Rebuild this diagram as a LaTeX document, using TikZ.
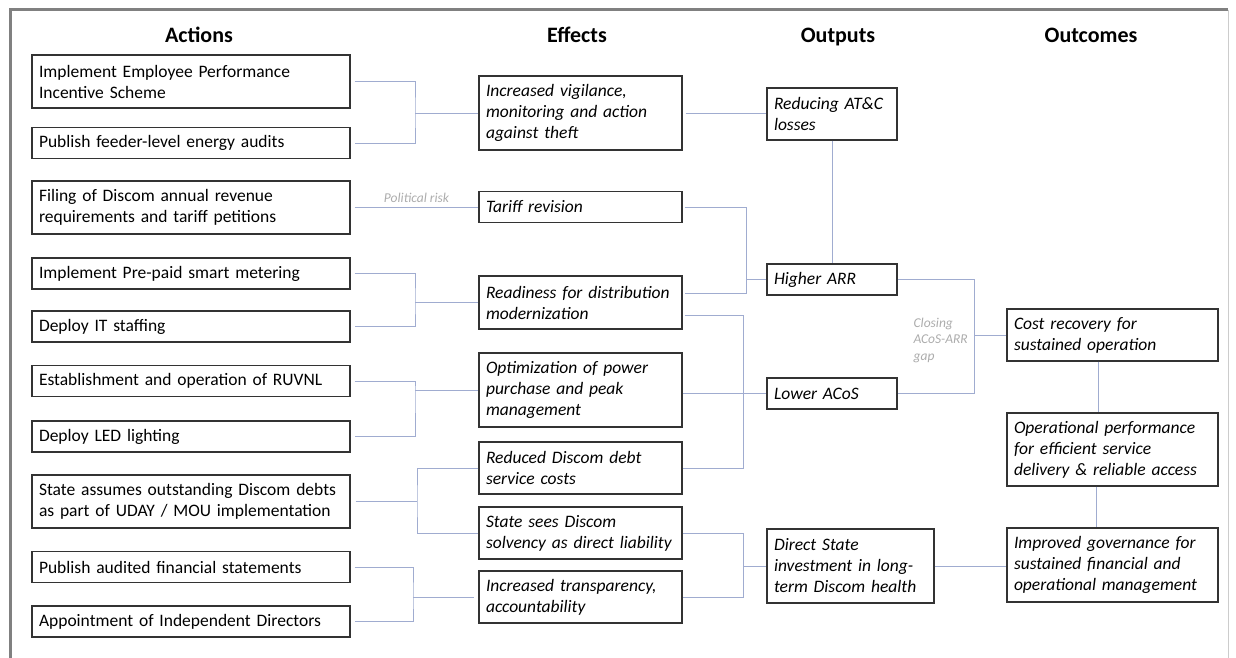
\documentclass[tikz,border=0pt]{standalone}
\usepackage{fontspec}
\setmainfont{Carlito}
\usetikzlibrary{positioning}

\definecolor{linkblue}{RGB}{160,172,208}
\definecolor{framegray}{RGB}{128,128,128}
\definecolor{notegray}{RGB}{172,172,172}

\tikzset{
    box/.style={draw=black!80, line width=1.1pt, align=left, inner xsep=7pt, inner ysep=2pt,
        minimum height=31pt, font=\fontsize{17.5}{21}\selectfont},
    action/.style={box, text width=304pt},
    effect/.style={box, text width=189pt, font=\fontsize{17.5}{21}\selectfont\itshape},
    output/.style={box, text width=116pt, font=\fontsize{17.5}{21}\selectfont\itshape},
    outcome/.style={box, text width=197pt, font=\fontsize{17.5}{21}\selectfont\itshape},
    head/.style={anchor=base, font=\fontsize{22}{26}\selectfont\bfseries},
    note/.style={text=notegray, inner sep=1pt, font=\fontsize{13.5}{16.5}\selectfont\itshape},
    link/.style={draw=linkblue, line width=0.9pt},
}

\begin{document}
\begin{tikzpicture}[x=1pt,y=-1pt]
    \useasboundingbox (0,0) rectangle (1236,658);

    % cadre
    \draw[framegray, line width=3pt] (10,658) -- (10,10) -- (1228,10);
    \draw[black!20] (1228,10) -- (1228,658);

    \foreach \x/\t [count=\i] in {199/Actions, 577/Effects, 838/Outputs, 1091/Outcomes}
        \node[head] (h\i) at (\x,43) {\t};

    % actions
    \node[action, minimum height=53pt] (a1) at (191,81.5) {Implement Employee Performance\\Incentive Scheme};
    \node[action] (a2) at (191,143) {Publish feeder-level energy audits};
    \node[action, minimum height=53pt] (a3) at (191,207.5) {Filing of Discom annual revenue\\requirements and tariff petitions};
    \node[action] (a4) at (191,273.5) {Implement Pre-paid smart metering};
    \node[action] (a5) at (191,326.5) {Deploy IT staffing};
    \node[action] (a6) at (191,381) {Establishment and operation of RUVNL};
    \node[action] (a7) at (191,436.5) {Deploy LED lighting};
    \node[action, minimum height=53pt] (a8) at (191,501.5) {State assumes outstanding Discom debts\\as part of UDAY / MOU implementation};
    \node[action] (a9) at (191,567) {Publish audited financial statements};
    \node[action] (a10) at (191,621.5) {Appointment of Independent Directors};

    % effects
    \node[effect, minimum height=74pt] (e1) at (580.5,113) {Increased vigilance,\\monitoring and action\\against theft};
    \node[effect] (e2) at (580.5,207) {Tariff revision};
    \node[effect, minimum height=53pt] (e3) at (580.5,302.5) {Readiness for distribution\\modernization};
    \node[effect, minimum height=74pt] (e4) at (580.5,390) {Optimization of power\\purchase and peak\\management};
    \node[effect, minimum height=52pt] (e5) at (580.5,468) {Reduced Discom debt\\service costs};
    \node[effect, minimum height=52pt] (e6) at (580.5,533) {State sees Discom\\solvency as direct liability};
    \node[effect, minimum height=52pt] (e7) at (580.5,597) {Increased transparency,\\accountability};

    % outputs
    \node[output, minimum height=52pt] (o1) at (832,114) {Reducing AT\&C\\losses};
    \node[output] (o2) at (832,279.5) {Higher ARR};
    \node[output] (o3) at (832,393.5) {Lower ACoS};
    \node[output, text width=153pt, minimum height=74pt] (o4) at (850.5,566) {Direct State\\investment in long-\\term Discom health};

    % outcomes
    \node[outcome, minimum height=52pt] (c1) at (1112.5,335) {Cost recovery for\\sustained operation};
    \node[outcome, minimum height=73pt] (c2) at (1112.5,449.5) {Operational performance\\for efficient service\\delivery \& reliable access};
    \node[outcome, minimum height=74pt] (c3) at (1112.5,565) {Improved governance for\\sustained financial and\\operational management};

    % actions -> effects
    \coordinate (j1) at (415,113);
    \draw[link] ([xshift=4pt]a1.east) -| (j1) |- ([xshift=4pt]a2.east);
    \draw[link] (j1) -- (e1.west);
    \draw[link] ([xshift=4pt]a3.east) -- (a3.east -| e2.west) node[note, midway, above=3pt] (risk) {Political risk};
    \coordinate (j2) at (415,302.5);
    \draw[link] ([xshift=4pt]a4.east) -| (j2) |- ([xshift=4pt]a5.east);
    \draw[link] (j2) -- (e3.west);
    \coordinate (j3) at (415,390);
    \draw[link] ([xshift=4pt]a6.east) -| (j3) |- ([xshift=4pt]a7.east);
    \draw[link] (j3) -- (e4.west);
    \coordinate (j4) at (417,501.5);
    \draw[link] ([xshift=5pt]a8.east) -- (j4);
    \draw[link] (e5.west) -| (j4) |- (e6.west);
    \coordinate (j5) at (413,597);
    \draw[link] ([xshift=4pt]a9.east) -| (j5) |- ([xshift=4pt]a10.east);
    \draw[link] (j5) -- ([xshift=-4pt]e7.west);

    % effects -> outputs
    \draw[link] ([xshift=3pt]e1.east) -- (e1.east -| o1.west);
    \draw[link] (o1.south) -- (o2.north);
    \coordinate (j6) at (746,279.5);
    \draw[link] ([xshift=2pt]e2.east) -| (j6) |- ([xshift=2pt,yshift=9.5pt]e3.east);
    \draw[link] (j6) -- (o2.west);
    \coordinate (j7) at (743,393.5);
    \draw[link] ([xshift=2pt,yshift=-12.5pt]e3.east) -| (j7) |- (e5.east);
    \draw[link] (e4.east |- o3.west) -- (o3.west);
    \coordinate (j8) at (743,566);
    \draw[link] (e6.east) -| (j8) |- (e7.east);
    \draw[link] (j8) -- (o4.west);

    % outputs -> outcomes
    \coordinate (j9) at (974,335);
    \draw[link] (o2.east) -| (j9) |- (o3.east);
    \draw[link] (j9) -- (c1.west);
    \node[note, align=left, anchor=east] (gap) at (969,340) {Closing\\ACoS-ARR\\gap};
    \draw[link] (o4.east) -- (o4.east -| c3.west);
    \draw[link] ([xshift=-14.5pt]c1.south) -- ([xshift=-14.5pt]c2.north);
    \draw[link] ([xshift=-16.5pt]c2.south) -- ([xshift=-16.5pt]c3.north);

\end{tikzpicture}
\end{document}
